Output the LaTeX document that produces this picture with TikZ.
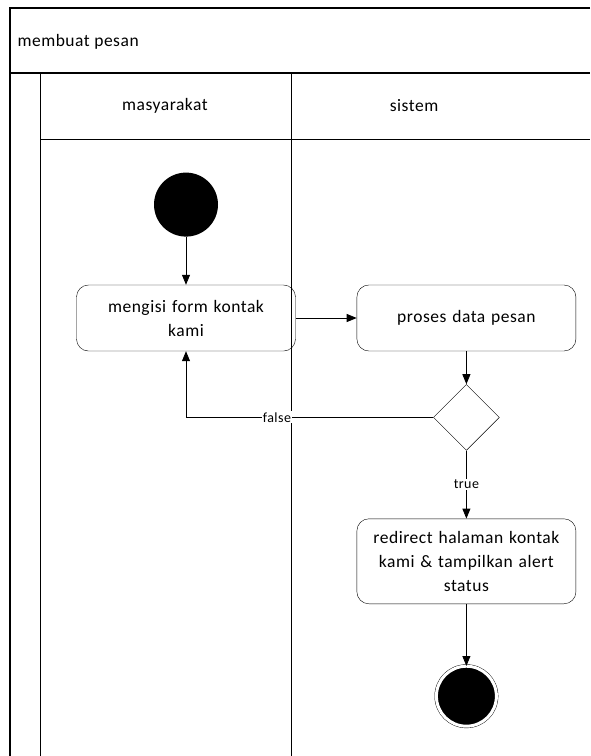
\documentclass[tikz,border=0pt]{standalone}
\usepackage{fontspec}
\setmainfont[LetterSpace=3]{Carlito}
\usetikzlibrary{arrows.meta,positioning,shapes.geometric}

\begin{document}
\begin{tikzpicture}[x=1pt,y=-1pt,font=\fontsize{17.5}{24}\selectfont,
  activity/.style={draw,rounded corners=12pt,minimum width=219pt,minimum height=66pt,text width=205pt,align=center,inner sep=2pt},
  decision/.style={draw,diamond,minimum width=66pt,minimum height=66pt,inner sep=0pt},
  startdot/.style={circle,fill=black,minimum size=64pt,inner sep=0pt},
  enddot/.style={circle,draw,double=white,double distance=3pt,fill=black,minimum size=60pt,inner sep=0pt},
  flow/.style={-{Triangle[length=10pt,width=8pt]},line width=0.8pt},
  guard/.style={fill=white,inner sep=1pt,font=\fontsize{14}{16}\selectfont}]
  \useasboundingbox (0,0) rectangle (590,756);
  % swimlanes
  \draw [line width=1.3pt] (590,8) -- (10,8) -- (10,756);
  \draw [line width=1.3pt] (10,73) -- (590,73);
  \draw [line width=1pt] (40,73) -- (40,756);
  \draw [line width=1pt] (40,139) -- (590,139);
  \draw [line width=1pt] (291,73) -- (291,756);
  \node [anchor=west] (title) at (14,42) {membuat pesan};
  \node (lane1) at (165,106) {masyarakat};
  \node (lane2) at (414,106) {sistem};
  % activities
  \node [activity] (isi) at (186,318) {mengisi form kontak\\kami};
  \node [startdot,above=48pt of isi] (start) {};
  \node [activity,right=61pt of isi] (proses) {proses data pesan};
  \node [decision,below=33pt of proses] (cek) {};
  \node [activity,minimum height=85pt,below=68pt of cek] (redirect) {redirect halaman kontak\\kami \& tampilkan alert\\status};
  \node [enddot,below=62pt of redirect] (end) {};
  % flows
  \draw [flow] (start) -- (isi);
  \draw [flow] (isi) -- (proses);
  \draw [flow] (proses) -- (cek);
  \draw [flow] (cek.west) -| node [guard,pos=0.316] {false} (isi.south);
  \draw [flow] (cek) -- node [guard] {true} (redirect);
  \draw [flow] (redirect) -- (end);
\end{tikzpicture}
\end{document}
